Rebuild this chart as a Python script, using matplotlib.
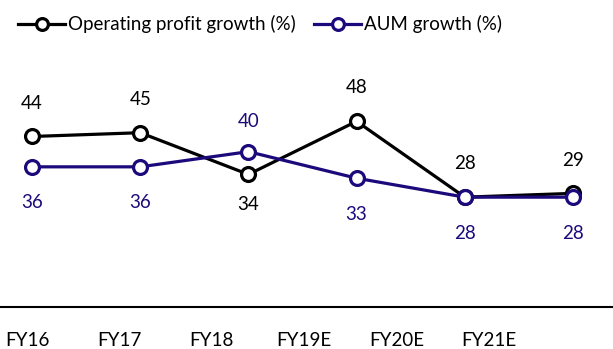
import matplotlib.pyplot as plt
import numpy as np

plt.rcParams['font.family'] = ['Lato', 'DejaVu Sans']

years = ['FY16', 'FY17', 'FY18', 'FY19E', 'FY20E', 'FY21E']
op_profit = [44, 45, 34, 48, 28, 29]
aum = [36, 36, 40, 33, 28, 28]

black = '#000000'
navy = '#1c0a7c'

fig = plt.figure(figsize=(6.13, 3.49), dpi=100)
ax = fig.add_axes([0, 0.12, 1, 0.88])

x = np.arange(len(years))
ax.plot(x, op_profit, color=black, lw=2.3, marker='o', ms=10, mfc='white',
        mec=black, mew=2.3, label='Operating profit growth (%)', zorder=3)
ax.plot(x, aum, color=navy, lw=2.3, marker='o', ms=10, mfc='white',
        mec=navy, mew=2.3, label='AUM growth (%)', zorder=4)

# value labels: the higher series goes on top
for i in range(len(years)):
    up = op_profit[i] >= aum[i]
    ax.annotate(str(op_profit[i]), (x[i], op_profit[i]), xytext=(0, 24 if up else -22),
                textcoords='offset points', ha='center', va='center',
                fontsize=13.5, color=black)
    ax.annotate(str(aum[i]), (x[i], aum[i]), xytext=(0, -26 if up else 22),
                textcoords='offset points', ha='center', va='center',
                fontsize=13.5, color=navy)

ax.set_xlim(-0.296, 5.37)
ax.set_ylim(-1, 80)

# category labels sit on a slightly narrower grid than the points
ax.set_xticks(-0.046 + x * 0.854)
ax.set_xticklabels(years, fontsize=13.5)
ax.tick_params(axis='x', length=0, pad=18)
ax.set_yticks([])

for s in ['top', 'left', 'right']:
    ax.spines[s].set_visible(False)
ax.spines['bottom'].set_linewidth(1.5)

ax.legend(loc='upper left', bbox_to_anchor=(0.005, 1.0), ncol=2, frameon=False,
          fontsize=13.5, handlelength=2.5, handletextpad=0.15, columnspacing=1.0,
          markerscale=0.85, borderaxespad=0.4)

fig.savefig('out.png', dpi=100)
